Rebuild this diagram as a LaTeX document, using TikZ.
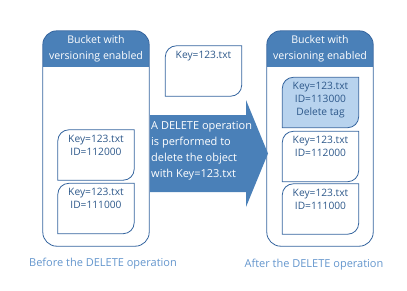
\documentclass[tikz,border=0pt]{standalone}
\usepackage{fontspec}
\setmainfont{Open Sans}
\usetikzlibrary{positioning}
\definecolor{bucketblue}{RGB}{74,128,184}
\definecolor{lineblue}{RGB}{52,100,158}
\definecolor{textblue}{RGB}{45,88,138}
\definecolor{tagblue}{RGB}{184,211,238}
\definecolor{capblue}{RGB}{100,150,205}
% object outline: rounded top left and bottom right corners
\newcommand{\objshape}[2][]{%
  \draw[objline,#1] (#2.south west) -- ([yshift=-11pt]#2.north west)
    arc[start angle=180,end angle=90,radius=11pt] -- (#2.north east)
    -- ([yshift=11pt]#2.south east)
    arc[start angle=0,end angle=-90,radius=11pt] -- cycle;}
% bucket outline with blue header band
\newcommand{\bucket}[1]{%
  \begin{scope}
    \clip[rounded corners=14pt] (#1.north west) rectangle (#1.south east);
    \fill[bucketblue] (#1.north west) rectangle ([yshift=-36pt]#1.north east);
  \end{scope}
  \draw[objline,rounded corners=14pt] (#1.north west) rectangle (#1.south east);
  \node[headtext] at ([yshift=-18pt]#1.north) {Bucket with\\versioning enabled};}

\begin{document}
\begin{tikzpicture}[x=1pt,y=1pt,
  font=\fontsize{10.2}{13}\selectfont,
  objline/.style={draw=lineblue,line width=0.8pt},
  bucketbox/.style={minimum width=106pt,minimum height=215pt,inner sep=0pt},
  objbox/.style={minimum width=76pt,minimum height=50pt,inner sep=0pt},
  objtext/.style={text=textblue,align=center,inner sep=0pt,anchor=north},
  headtext/.style={text=white,align=center,font=\fontsize{10.6}{15.5}\selectfont},
  captext/.style={text=capblue,font=\fontsize{11}{13}\selectfont}]
  \useasboundingbox (0,0) rectangle (407,-290);

  % buckets
  \node[bucketbox] (lb) at (96,-138.5) {};
  \node[bucketbox] (rb) at (320,-138.5) {};
  \bucket{lb}
  \bucket{rb}

  % objects before
  \node[objbox] (l1) at (96,-155) {};
  \node[objbox] (l2) at (96,-208.5) {};
  % object to delete
  \node[objbox] (m1) at (203.5,-71) {};
  % objects after
  \node[objbox] (r1) at (320.5,-102.5) {};
  \node[objbox] (r2) at (320.5,-156.5) {};
  \node[objbox] (r3) at (320.5,-209) {};

  \objshape[fill=tagblue]{r1}
  \foreach \n in {l1,l2,m1,r2,r3} {\objshape{\n}}

  \node[objtext,below=5pt of l1.north] {Key=123.txt\\ID=112000};
  \node[objtext,below=5pt of l2.north] {Key=123.txt\\ID=111000};
  \node[objtext,below=5pt of m1.north] {Key=123.txt};
  \node[objtext,below=5pt of r1.north] {Key=123.txt\\ID=113000\\Delete tag};
  \node[objtext,below=5pt of r2.north] {Key=123.txt\\ID=112000};
  \node[objtext,below=5pt of r3.north] {Key=123.txt\\ID=111000};

  % operation arrow
  \fill[bucketblue] (150,-115) -- (246,-115) -- (246,-100) -- (268,-153.5)
    -- (246,-207) -- (246,-192) -- (150,-192) -- cycle;
  \node[text=white,align=left,anchor=west,inner sep=0pt,
    font=\fontsize{11}{16}\selectfont] (op) at (151,-151)
    {A DELETE operation\\is performed to\\delete the object\\with Key=123.txt};

  % captions
  \node[captext] (capl) at (103,-264) {Before the DELETE operation};
  \node[captext] (capr) at (314,-265) {After the DELETE operation};
\end{tikzpicture}
\end{document}
